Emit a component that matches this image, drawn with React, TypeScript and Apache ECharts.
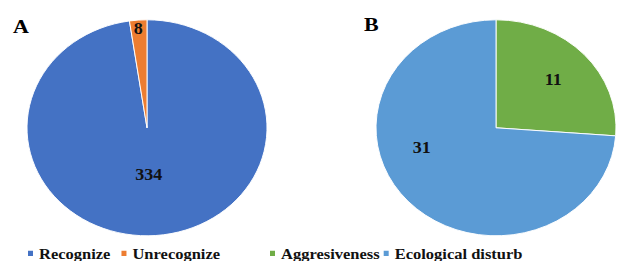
import React, { useEffect, useRef } from "react";
import * as echarts from "echarts";

const pieANames = ["Recognize", "Unrecognize"];
const pieAValues = [334, 8];
const pieBNames = ["Aggresiveness", "Ecological disturb"];
const pieBValues = [11, 31];
const colorsA = ["#4472C4", "#ED7D31"];
const colorsB = ["#70AD47", "#5B9BD5"];
const offsetsA = [[-3, -11], [-4, -47]];
const offsetsB = [[11, -10], [-28, -21]];

const SCALE_Y = 0.9;
const FONT = "Liberation Serif";

export default function App() {
  const ref = useRef<HTMLDivElement>(null);
  useEffect(() => {
    if (!ref.current) return;
    const chart = echarts.init(ref.current, undefined, { renderer: "svg" });
    const labelStyle = {
      show: true,
      position: "inside",
      formatter: "{c}",
      fontFamily: FONT,
      fontWeight: "bold",
      fontSize: 18,
      color: "#111",
    };
    const mk = (names: string[], values: number[], colors: string[], offs: number[][]) =>
      names.map((n, i) => ({
        name: n,
        value: values[i],
        itemStyle: { color: colors[i] },
        label: { offset: offs[i] },
      }));
    const legendText = { fontFamily: FONT, fontWeight: "bold", fontSize: 16.5, color: "#111" };
    chart.setOption({
      animation: false,
      title: [
        { text: "A", left: 8, top: 13, textStyle: { fontFamily: FONT, fontWeight: "bold", fontSize: 22, color: "#000" } },
        { text: "B", left: 359, top: 11, textStyle: { fontFamily: FONT, fontWeight: "bold", fontSize: 22, color: "#000" } },
      ],
      legend: [
        {
          data: pieANames,
          left: 26,
          top: 273,
          padding: 0,
          icon: "rect",
          itemWidth: 7,
          itemHeight: 8,
          itemGap: 9,
          textStyle: legendText,
        },
        {
          data: pieBNames,
          left: 268,
          top: 273,
          padding: 0,
          icon: "rect",
          itemWidth: 7,
          itemHeight: 8,
          itemGap: 2,
          textStyle: legendText,
        },
      ],
      series: [
        {
          type: "pie",
          center: [147, 142],
          radius: [0, 120],
          startAngle: 90,
          clockwise: true,
          label: labelStyle,
          labelLine: { show: false },
          emphasis: { disabled: true },
          itemStyle: { borderColor: "#fff", borderWidth: 1 },
          data: mk(pieANames, pieAValues, colorsA, offsetsA),
        },
        {
          type: "pie",
          center: [496, 142],
          radius: [0, 120],
          startAngle: 90,
          clockwise: true,
          label: labelStyle,
          labelLine: { show: false },
          emphasis: { disabled: true },
          itemStyle: { borderColor: "#fff", borderWidth: 1 },
          data: mk(pieBNames, pieBValues, colorsB, offsetsB),
        },
      ],
    });
    return () => chart.dispose();
  }, []);
  return (
    <div style={{ position: "absolute", left: 0, top: 0, width: 633, height: 261, overflow: "hidden", background: "#fff" }}>
      <div
        ref={ref}
        style={{ width: 633, height: 261 / SCALE_Y, transform: `scaleY(${SCALE_Y})`, transformOrigin: "0 0" }}
      />
    </div>
  );
}
